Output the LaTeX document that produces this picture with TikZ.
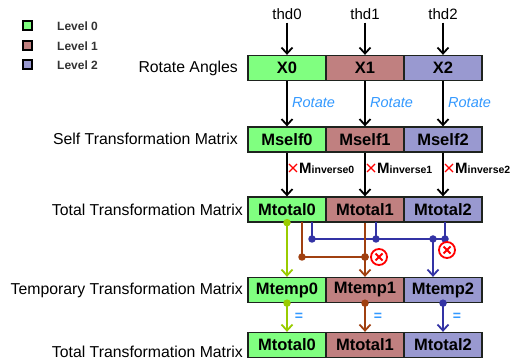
\documentclass[tikz,border=0pt]{standalone}
\usepackage{fontspec}
\setmainfont{Liberation Sans}
\usetikzlibrary{arrows.meta}
\definecolor{lvA}{RGB}{128,255,128}
\definecolor{lvB}{RGB}{192,128,128}
\definecolor{lvC}{RGB}{153,153,208}
\definecolor{limec}{RGB}{153,204,0}
\definecolor{brn}{RGB}{160,64,16}
\definecolor{blu}{RGB}{51,51,165}
\definecolor{rotblue}{RGB}{51,153,255}
\definecolor{xred}{RGB}{255,0,0}
\definecolor{bord}{RGB}{30,35,30}
\begin{document}
\begin{tikzpicture}[x=1pt,y=-1pt,
  cell/.style={draw=bord, line width=1.3pt, minimum width=78pt, minimum height=25pt,
    inner sep=0pt, font=\fontsize{16.5}{16.5}\selectfont\bfseries},
  rowlab/.style={anchor=east, inner sep=0pt, font=\fontsize{15.8}{15.8}\selectfont},
  thdlab/.style={inner sep=0pt, font=\fontsize{15}{15}\selectfont},
  rotlab/.style={anchor=west, inner sep=0pt, text=rotblue, font=\fontsize{14.5}{14.5}\selectfont\itshape},
  invlab/.style={anchor=west, inner sep=0pt, font=\bfseries},
  eqlab/.style={inner sep=0pt, text=rotblue, font=\fontsize{14}{14}\selectfont\bfseries},
  legbox/.style={draw=black, line width=2pt, minimum size=9pt, inner sep=0pt},
  leglab/.style={anchor=west, inner sep=0pt, font=\fontsize{12}{12}\selectfont\bfseries, text=black!80},
  arr/.style={line width=1.8pt, -{Straight Barb[length=6pt,width=11pt]}},
  cline/.style={line width=1.8pt},
  xmark/.style={xred, line width=1.1pt},
  dotn/.style={circle, inner sep=0pt, minimum size=7.5pt},
  xo/.style={circle, draw=xred, fill=white, line width=1.8pt, minimum size=16pt, inner sep=0pt,
    path picture={
      \draw[xred, line width=1.8pt]
        ([shift={(-3.5pt,-3.5pt)}]path picture bounding box.center) -- ([shift={(3.5pt,3.5pt)}]path picture bounding box.center)
        ([shift={(-3.5pt,3.5pt)}]path picture bounding box.center) -- ([shift={(3.5pt,-3.5pt)}]path picture bounding box.center);}}
]
\path[fill=white,use as bounding box] (0,0) rectangle (512,363);

% legend
\node[legbox, fill=lvA] (lg0) at (27,26) {};
\node[legbox, fill=lvB] (lg1) at (27,46) {};
\node[legbox, fill=lvC] (lg2) at (27,65) {};
\node[leglab] (lt0) at (57,26) {Level 0};
\node[leglab] (lt1) at (57,46) {Level 1};
\node[leglab] (lt2) at (57,65) {Level 2};

% row labels
\node[rowlab] (la) at (238,68) {Rotate Angles};
\node[rowlab] (lb) at (238,139) {Self Transformation Matrix};
\node[rowlab] (lc) at (243,210) {Total Transformation Matrix};
\node[rowlab] (ld) at (243,290) {Temporary Transformation Matrix};
\node[rowlab] (le) at (243,352) {Total Transformation Matrix};

% thd labels
\node[thdlab] (t0) at (287,14) {thd0};
\node[thdlab] (t1) at (365,14) {thd1};
\node[thdlab] (t2) at (443,14) {thd2};

% rows
\node[cell, fill=lvA] (a0) at (287,68) {X0};
\node[cell, fill=lvB] (a1) at (365,68) {X1};
\node[cell, fill=lvC] (a2) at (443,68) {X2};

\node[cell, fill=lvA] (b0) at (287,139.5) {Mself0};
\node[cell, fill=lvB] (b1) at (365,139.5) {Mself1};
\node[cell, fill=lvC] (b2) at (443,139.5) {Mself2};

\node[cell, fill=lvA] (c0) at (287,209.5) {Mtotal0};
\node[cell, fill=lvB] (c1) at (365,209.5) {Mtotal1};
\node[cell, fill=lvC] (c2) at (443,209.5) {Mtotal2};

\node[cell, fill=lvA] (d0) at (287,290) {Mtemp0};
\node[cell, fill=lvB] (d1) at (365,290) {Mtemp1};
\node[cell, fill=lvC] (d2) at (443,290) {Mtemp2};

\node[cell, fill=lvA] (e0) at (287,345) {Mtotal0};
\node[cell, fill=lvB] (e1) at (365,345) {Mtotal1};
\node[cell, fill=lvC] (e2) at (443,345) {Mtotal2};

% thd -> X
\draw[arr] ([yshift=-3pt]t0.south) -- (a0.north);
\draw[arr] ([yshift=-3pt]t1.south) -- (a1.north);
\draw[arr] ([yshift=-3pt]t2.south) -- (a2.north);

% X -> Mself
\draw[arr] (a0.south) -- (b0.north);
\draw[arr] (a1.south) -- (b1.north);
\draw[arr] (a2.south) -- (b2.north);
\node[rotlab] (r0) at (292,103) {Rotate};
\node[rotlab] (r1) at (370,103) {Rotate};
\node[rotlab] (r2) at (448,103) {Rotate};

% Mself -> Mtotal
\draw[arr] (b0.south) -- (c0.north);
\draw[arr] (b1.south) -- (c1.north);
\draw[arr] (b2.south) -- (c2.north);
\draw[xmark] (289,164) -- (297,172) (289,172) -- (297,164);
\draw[xmark] (367,164) -- (375,172) (367,172) -- (375,164);
\draw[xmark] (445,164) -- (453,172) (445,172) -- (453,164);
\node[invlab] (m0) at (299,168) {{\fontsize{15}{15}\selectfont M}{\fontsize{10.5}{10.5}\selectfont inverse0}};
\node[invlab] (m1) at (377,168) {{\fontsize{15}{15}\selectfont M}{\fontsize{10.5}{10.5}\selectfont inverse1}};
\node[invlab] (m2) at (455,168) {{\fontsize{15}{15}\selectfont M}{\fontsize{10.5}{10.5}\selectfont inverse2}};

% Mtotal -> Mtemp
\node[dotn, fill=limec] (g0) at (c0.south) {};
\draw[arr, limec] (g0.center) -- (d0.north);

\coordinate (br0) at (302,222);
\node[dotn, fill=brn] (br1) at (302,257) {};
\node[dotn, fill=brn] (br2) at (365,257) {};
\draw[cline, brn] (br0) -- (br1.center) -- (br2.center);

\coordinate (bu0) at (312,222);
\node[dotn, fill=blu] (bu1) at (312,239) {};
\coordinate (bu2) at (376,222);
\node[dotn, fill=blu] (bu3) at (376,239) {};
\coordinate (bu4) at (445,222);
\node[dotn, fill=blu] (bu5) at (445,239) {};
\node[dotn, fill=blu] (bu6) at (433,239) {};
\draw[cline, blu] (bu0) -- (bu1.center) -- (bu5.center);
\draw[cline, blu] (bu2) -- (bu3.center);
\draw[cline, blu] (bu4) -- (bu5.center);
\draw[arr, blu] (bu6.center) -- (bu6 |- d2.north);

\draw[arr, brn] (c1.south) -- (d1.north);
\node[dotn, fill=brn] at (br2) {};

\node[xo] (x1) at (379,257) {};
\node[xo] (x2) at (447,250) {};

% Mtemp -> Mtotal
\node[dotn, fill=limec] (h0) at (d0.south) {};
\node[dotn, fill=brn] (h1) at (d1.south) {};
\node[dotn, fill=blu] (h2) at (d2.south) {};
\draw[arr, limec] (h0.center) -- (e0.north);
\draw[arr, brn] (h1.center) -- (e1.north);
\draw[arr, blu] (h2.center) -- (e2.north);
\node[eqlab] (q0) at (299,317) {=};
\node[eqlab] (q1) at (378,317) {=};
\node[eqlab] (q2) at (457,317) {=};
\end{tikzpicture}
\end{document}
